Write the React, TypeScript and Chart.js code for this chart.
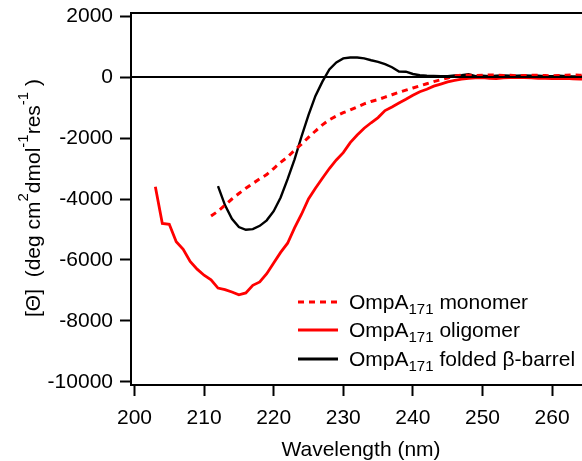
import { useEffect, useRef } from 'react';
import { Chart, registerables } from 'chart.js';
Chart.register(...registerables);

const FONT = '"Liberation Sans", Arial, sans-serif';

const xTicks = [200, 210, 220, 230, 240, 250, 260];
const yTicks = [-10000, -8000, -6000, -4000, -2000, 0, 2000];

const monomerWl = [211, 212, 213, 214, 215, 216, 217, 218, 219, 220, 221, 222, 223, 224, 225, 226, 227, 228, 229, 230, 231, 232, 233, 234, 235, 236, 237, 238, 239, 240, 241, 242, 243, 244, 245, 246, 247, 248, 249, 250, 251, 252, 253, 254, 255, 256, 257, 258, 259, 260, 261, 262, 263, 264, 265];
const monomerVal = [-4560, -4400, -4200, -4000, -3820, -3650, -3490, -3340, -3200, -3000, -2800, -2620, -2400, -2200, -1980, -1770, -1570, -1400, -1280, -1170, -1080, -980, -880, -800, -740, -660, -580, -500, -430, -360, -290, -220, -150, -90, -30, 30, 60, 60, 50, 60, 70, 60, 50, 60, 40, 50, 60, 60, 50, 40, 50, 60, 70, 60, 50];

const oligomerWl = [203, 204, 205, 206, 207, 208, 209, 210, 211, 212, 213, 214, 215, 216, 217, 218, 219, 220, 221, 222, 223, 224, 225, 226, 227, 228, 229, 230, 231, 232, 233, 234, 235, 236, 237, 238, 239, 240, 241, 242, 243, 244, 245, 246, 247, 248, 249, 250, 251, 252, 253, 254, 255, 256, 257, 258, 259, 260, 261, 262, 263, 264, 265];
const oligomerVal = [-3600, -4800, -4830, -5400, -5650, -6050, -6300, -6500, -6650, -6920, -6970, -7050, -7140, -7080, -6830, -6720, -6450, -6100, -5750, -5450, -4950, -4500, -4000, -3650, -3320, -3000, -2720, -2480, -2150, -1900, -1680, -1500, -1330, -1100, -980, -850, -730, -600, -480, -400, -300, -230, -160, -110, -70, -40, -30, -20, -40, -50, -30, -20, -10, -20, -30, -40, -40, -50, -50, -40, -60, -70, -70];

const foldedWl = [212, 213, 214, 215, 216, 217, 218, 219, 220, 221, 222, 223, 224, 225, 226, 227, 228, 229, 230, 231, 232, 233, 234, 235, 236, 237, 238, 239, 240, 241, 242, 243, 244, 245, 246, 247, 248, 249, 250, 251, 252, 253, 254, 255, 256, 257, 258, 259, 260, 261, 262, 263, 264, 265];
const foldedVal = [-3580, -4200, -4650, -4920, -5010, -4990, -4880, -4700, -4400, -3950, -3350, -2700, -1950, -1250, -620, -150, 250, 480, 610, 640, 640, 610, 550, 500, 420, 320, 180, 175, 100, 60, 40, 35, 30, 30, 50, 60, 90, 30, 40, 30, 40, 50, 40, 40, 50, 40, 40, 30, 30, 40, 30, 20, 20, 20];

const legendRows = [
  { main: 'OmpA', sub: '171', rest: ' monomer', color: '#ff0000', dash: [6, 5] },
  { main: 'OmpA', sub: '171', rest: ' oligomer', color: '#ff0000', dash: [] },
  { main: 'OmpA', sub: '171', rest: ' folded \u03B2-barrel', color: '#000000', dash: [] },
];

const pts = (xs: number[], ys: number[]) => xs.map((x, i) => ({ x, y: ys[i] }));

const decorPlugin = {
  id: 'decor',
  afterDatasetsDraw(chart: any) {
    const ctx = chart.ctx;
    const ca = chart.chartArea;
    const ys = chart.scales.y;
    ctx.save();
    ctx.strokeStyle = '#000';
    ctx.lineWidth = 2;
    ctx.beginPath();
    ctx.moveTo(ca.left, ca.top);
    ctx.lineTo(ca.right, ca.top);
    ctx.stroke();
    const y0 = ys.getPixelForValue(0);
    ctx.beginPath();
    ctx.moveTo(ca.left, y0);
    ctx.lineTo(ca.right, y0);
    ctx.stroke();

    const lx0 = 298, lx1 = 338, tx = 349;
    const rowY = [302, 330, 359];
    legendRows.forEach((r, i) => {
      const y = rowY[i];
      ctx.strokeStyle = r.color;
      ctx.lineWidth = 3;
      ctx.setLineDash(r.dash);
      ctx.beginPath();
      ctx.moveTo(lx0, y);
      ctx.lineTo(lx1, y);
      ctx.stroke();
      ctx.setLineDash([]);
      ctx.fillStyle = '#000';
      ctx.textBaseline = 'alphabetic';
      ctx.textAlign = 'left';
      let x = tx;
      const base = y + 7;
      ctx.font = `21px ${FONT}`;
      ctx.fillText(r.main, x, base);
      x += ctx.measureText(r.main).width;
      ctx.font = `15px ${FONT}`;
      ctx.fillText(r.sub, x, base + 5);
      x += ctx.measureText(r.sub).width;
      ctx.font = `21px ${FONT}`;
      ctx.fillText(r.rest, x, base);
    });

    ctx.fillStyle = '#000';
    ctx.font = `21px ${FONT}`;
    ctx.textAlign = 'center';
    ctx.textBaseline = 'alphabetic';
    ctx.fillText('Wavelength (nm)', 361, 456);

    const segs = [
      { t: '[\u0398]', sup: false },
      { t: '  (deg cm', sup: false },
      { t: '2', sup: true },
      { t: 'dmol', sup: false },
      { t: '-1', sup: true },
      { t: 'res', sup: false },
      { t: '-1', sup: true },
      { t: ' )', sup: false },
    ];
    const mainF = `21px ${FONT}`;
    const supF = `15px ${FONT}`;
    let total = 0;
    segs.forEach((s) => {
      ctx.font = s.sup ? supF : mainF;
      total += ctx.measureText(s.t).width;
    });
    ctx.translate(40, 198);
    ctx.rotate(-Math.PI / 2);
    ctx.textAlign = 'left';
    let cx = -total / 2;
    segs.forEach((s) => {
      ctx.font = s.sup ? supF : mainF;
      ctx.fillText(s.t, cx, s.sup ? -12 : 0);
      cx += ctx.measureText(s.t).width;
    });
    ctx.restore();
  },
};

export default function App() {
  const ref = useRef<HTMLCanvasElement>(null);
  useEffect(() => {
    if (!ref.current) return;
    const chart = new Chart(ref.current, {
      type: 'line',
      data: {
        datasets: [
          {
            label: 'OmpA171 monomer',
            data: pts(monomerWl, monomerVal),
            borderColor: '#ff0000',
            borderWidth: 3,
            borderDash: [6, 5],
            pointRadius: 0,
            fill: false,
            tension: 0,
          },
          {
            label: 'OmpA171 oligomer',
            data: pts(oligomerWl, oligomerVal),
            borderColor: '#ff0000',
            borderWidth: 2.8,
            pointRadius: 0,
            fill: false,
            tension: 0,
          },
          {
            label: 'OmpA171 folded \u03B2-barrel',
            data: pts(foldedWl, foldedVal),
            borderColor: '#000000',
            borderWidth: 2.4,
            pointRadius: 0,
            fill: false,
            tension: 0,
          },
        ],
      },
      options: {
        responsive: false,
        animation: false,
        layout: { padding: { top: 13, right: 0, left: 0, bottom: 0 } },
        plugins: { legend: { display: false }, tooltip: { enabled: false } },
        scales: {
          x: {
            type: 'linear',
            min: 199.5,
            max: 264.3,
            afterFit: (s: any) => { s.height = 76; s.paddingLeft = 0; s.paddingRight = 0; },
            afterBuildTicks: (s: any) => { s.ticks = xTicks.map((v) => ({ value: v })); },
            grid: { drawOnChartArea: false, drawTicks: true, tickLength: 11, tickWidth: 2, tickColor: '#000' },
            border: { display: true, color: '#000', width: 2 },
            ticks: { color: '#000', font: { family: FONT, size: 21 }, padding: 10, maxRotation: 0, autoSkip: false },
          },
          y: {
            type: 'linear',
            min: -10100,
            max: 2100,
            afterFit: (s: any) => { s.width = 131; s.paddingTop = 0; s.paddingBottom = 0; },
            afterBuildTicks: (s: any) => { s.ticks = yTicks.map((v) => ({ value: v })); },
            grid: { drawOnChartArea: false, drawTicks: true, tickLength: 11, tickWidth: 2, tickColor: '#000' },
            border: { display: true, color: '#000', width: 2 },
            ticks: { color: '#000', font: { family: FONT, size: 21 }, padding: 7, autoSkip: false, callback: (v: any) => String(v) },
          },
        },
      },
      plugins: [decorPlugin],
    });
    return () => chart.destroy();
  }, []);
  return (
    <div style={{ position: 'fixed', left: 0, top: 0, width: 582, height: 461, background: '#fff' }}>
      <canvas ref={ref} width={582} height={461} style={{ width: 582, height: 461, display: 'block' }} />
    </div>
  );
}
